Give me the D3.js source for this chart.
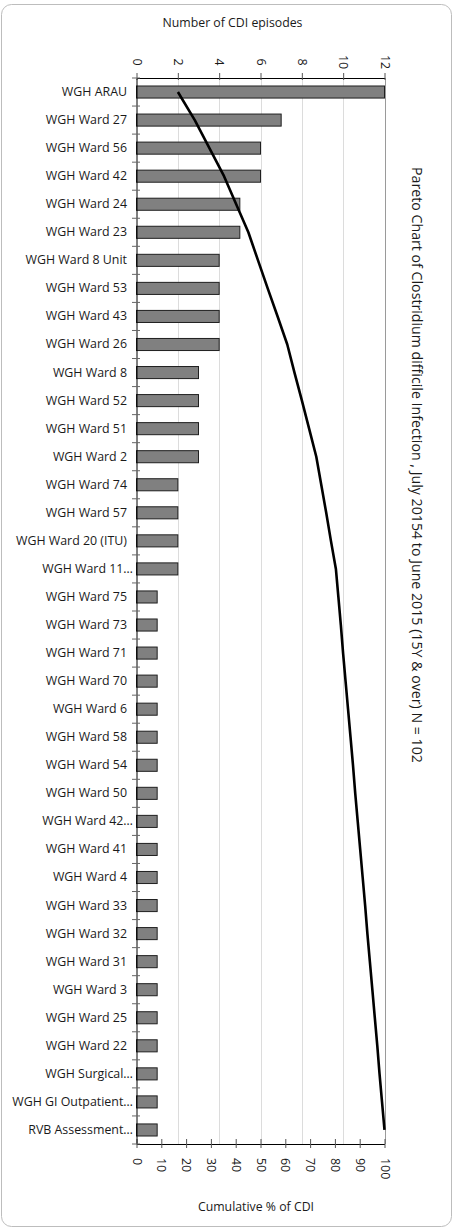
<!DOCTYPE html>
<html><head><meta charset="utf-8">
<script src="https://cdn.jsdelivr.net/npm/d3@7"></script>
<style>
body{margin:0;background:#fff}
svg{display:block}
text{font-family:"Open Sans",sans-serif;fill:#1a1a1a}
</style>
</head><body>
<svg id="c" width="454" height="1229"></svg>
<script>
const categories = ["WGH ARAU","WGH Ward 27","WGH Ward 56","WGH Ward 42","WGH Ward 24","WGH Ward 23","WGH Ward 8 Unit","WGH Ward 53","WGH Ward 43","WGH Ward 26","WGH Ward 8","WGH Ward 52","WGH Ward 51","WGH Ward 2","WGH Ward 74","WGH Ward 57","WGH Ward 20 (ITU)","WGH Ward 11…","WGH Ward 75","WGH Ward 73","WGH Ward 71","WGH Ward 70","WGH Ward 6","WGH Ward 58","WGH Ward 54","WGH Ward 50","WGH Ward 42…","WGH Ward 41","WGH Ward 4","WGH Ward 33","WGH Ward 32","WGH Ward 31","WGH Ward 3","WGH Ward 25","WGH Ward 22","WGH Surgical…","WGH GI Outpatient…","RVB Assessment…"];
const episodes = [17,7,6,6,5,5,4,4,4,4,3,3,3,3,2,2,2,2,1,1,1,1,1,1,1,1,1,1,1,1,1,1,1,1,1,1,1,1];
const cumulativePct = [16.7,23.5,29.4,35.3,40.2,45.1,49.0,52.9,56.9,60.8,63.7,66.7,69.6,72.5,74.5,76.5,78.4,80.4,81.4,82.4,83.3,84.3,85.3,86.3,87.3,88.2,89.2,90.2,91.2,92.2,93.1,94.1,95.1,96.1,97.1,98.0,99.0,100];
const countTicks = [0,2,4,6,8,10,12];
const pctTicks = [0,10,20,30,40,50,60,70,80,90,100];
const chartTitle = "Pareto Chart of Clostridium difficile Infection , July 20154 to June 2015 (15Y & over)  N = 102";
const topAxisTitle = "Number of CDI episodes";
const bottomAxisTitle = "Cumulative % of CDI";
</script>
<script>
const svg = d3.select("#c");
const L = 136.5, R = 384.5, T = 78, B = 1144;
const FS = "12.4px";

svg.append("rect").attr("x",1.5).attr("y",4.5).attr("width",450).attr("height",1222)
  .attr("rx",10).attr("fill","#fff").attr("stroke","#bdbdbd").attr("stroke-width",1);

const data = categories.map((c,i)=>({cat:c, v:episodes[i], pct:cumulativePct[i]}));

const y = d3.scaleBand().domain(categories).range([T,B]).paddingInner(0.57).paddingOuter(0.285);
const xCount = d3.scaleLinear().domain([0,12]).range([L,R]).clamp(true);
const xPct = d3.scaleLinear().domain([0,100]).range([L,R]);

// gridlines
svg.append("g").selectAll("line").data(countTicks.filter(d=>d>0)).join("line")
  .attr("x1",d=>Math.round(xCount(d))+0.5).attr("x2",d=>Math.round(xCount(d))+0.5)
  .attr("y1",T).attr("y2",B)
  .attr("stroke",d=>d===12?"#9a9a9a":"#dcdcdc").attr("stroke-width",1);

// bars
svg.append("g").selectAll("rect").data(data).join("rect")
  .attr("x",L).attr("y",d=>y(d.cat))
  .attr("width",d=>xCount(d.v)-L).attr("height",y.bandwidth())
  .attr("fill","#808080").attr("stroke","#1f1f1f").attr("stroke-width",1);

// cumulative line
svg.append("path").datum(data)
  .attr("d",d3.line().x(d=>xPct(d.pct)).y(d=>y(d.cat)+y.bandwidth()/2))
  .attr("fill","none").attr("stroke","#000").attr("stroke-width",2.6).attr("stroke-linejoin","round");

// top axis
const gTop = svg.append("g").attr("transform",`translate(0,${T})`)
  .call(d3.axisTop(xCount).tickValues(countTicks).tickSize(5).tickSizeOuter(0));
gTop.select(".domain").attr("stroke","#000");
gTop.selectAll(".tick line").attr("y1",2).attr("stroke","#555");
gTop.selectAll(".tick text").attr("x",0).attr("y",0).attr("dy","0.35em")
  .attr("transform","translate(0,-16) rotate(90)").attr("text-anchor","middle")
  .style("font-size",FS).style("font-family","'Open Sans',sans-serif").attr("fill","#1a1a1a");

// bottom axis
const gBot = svg.append("g").attr("transform",`translate(0,${B})`)
  .call(d3.axisBottom(xPct).tickValues(pctTicks).tickSize(4).tickSizeOuter(0));
gBot.select(".domain").attr("stroke","#000");
gBot.selectAll(".tick line").attr("y1",-5).attr("stroke","#555");
gBot.selectAll(".tick text").attr("x",0).attr("y",0).attr("dy","0.35em")
  .attr("transform","translate(0,14) rotate(90)").attr("text-anchor","start")
  .style("font-size",FS).style("font-family","'Open Sans',sans-serif").attr("fill","#1a1a1a");

// left axis
const gLeft = svg.append("g").attr("transform",`translate(${L},0)`)
  .call(d3.axisLeft(y).tickSize(0).tickPadding(9.5));
gLeft.select(".domain").attr("stroke","#000");
gLeft.selectAll(".tick text")
  .attr("dx",d=>d.endsWith("…")?6:0)
  .style("font-size",FS).style("font-family","'Open Sans',sans-serif").attr("fill","#1a1a1a");
// category boundary ticks
svg.append("g").selectAll("line").data(d3.range(categories.length+1)).join("line")
  .attr("x1",L-4.5).attr("x2",L+3.5)
  .attr("y1",i=>T+i*y.step()).attr("y2",i=>T+i*y.step())
  .attr("stroke","#666").attr("stroke-width",1);

// titles
svg.append("text").attr("x",232.5).attr("y",27).attr("text-anchor","middle")
  .style("font-size","12.3px").text(topAxisTitle);
svg.append("text").attr("x",256).attr("y",1211).attr("text-anchor","middle")
  .style("font-size","12.3px").text(bottomAxisTitle);
svg.append("text").attr("transform","translate(417,465) rotate(90)")
  .attr("text-anchor","middle").attr("dy","0.35em")
  .style("font-size","14.2px").text(chartTitle);
</script>
</body></html>
